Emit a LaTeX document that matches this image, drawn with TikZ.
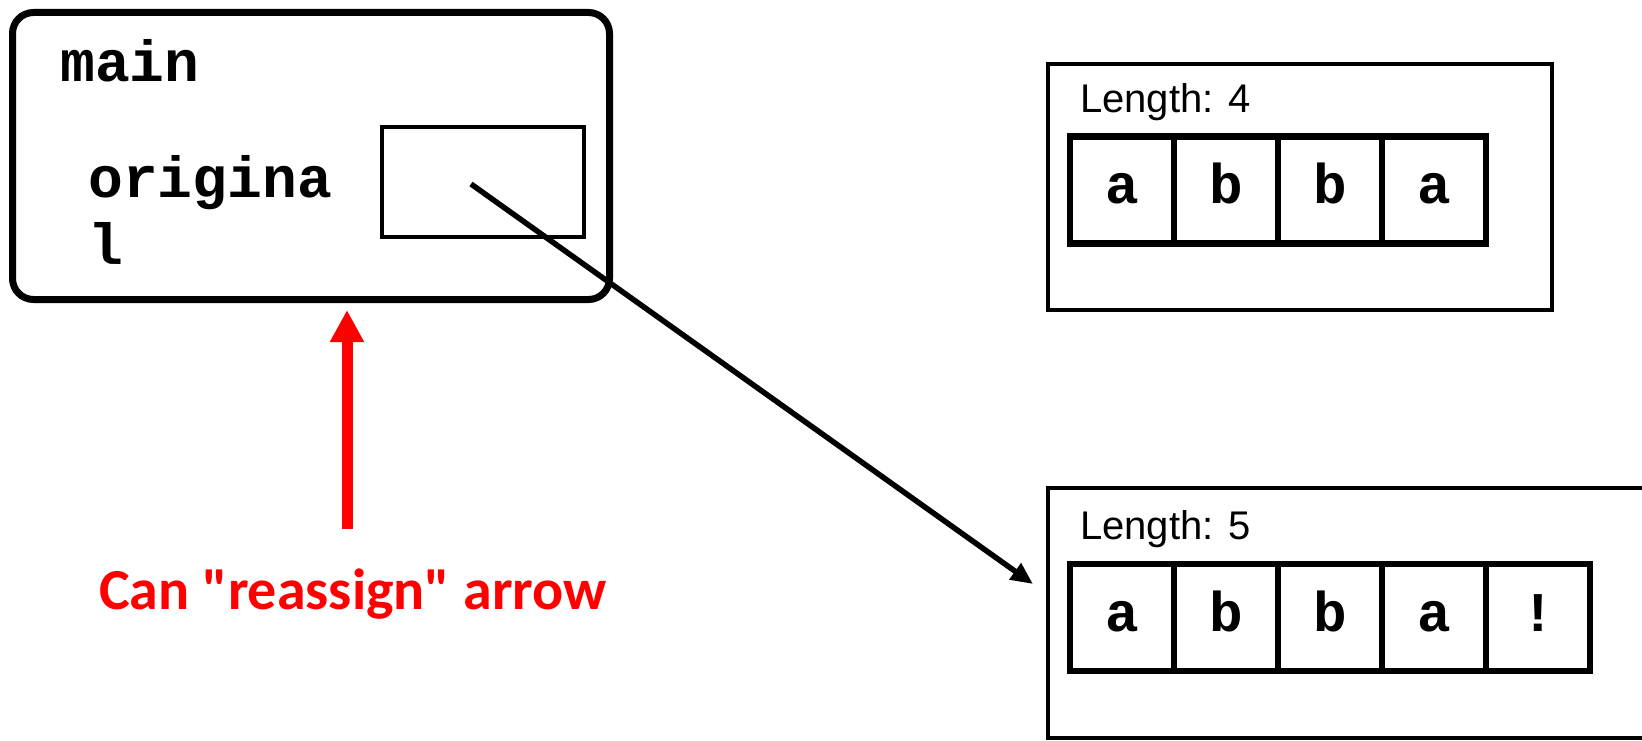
\documentclass[tikz,border=0pt]{standalone}
\usepackage{fontspec}
\setmainfont{Liberation Sans}
\newfontfamily\courb{Liberation Mono}
\newfontfamily\calib{Carlito}
\usetikzlibrary{arrows.meta}
\tikzset{
  frame/.style={draw, line width=4.5pt, inner sep=0pt, outer sep=0pt},
  cell/.style={draw, line width=6.5pt, inner sep=0pt, outer sep=0pt, minimum width=104pt, minimum height=107pt,
    font=\courb\bfseries\fontsize{56}{60}\selectfont, text height=27pt, text depth=0pt},
  code/.style={font=\courb\bfseries\fontsize{58}{67}\selectfont, inner sep=0pt, anchor=base west},
  lenlabel/.style={font=\fontsize{40}{44}\selectfont, inner sep=0pt, anchor=base west},
}
\begin{document}
\begin{tikzpicture}[x=1pt,y=-1pt]
\useasboundingbox (0,0) rectangle (1642,741);
% main frame
\node[draw, line width=7pt, rounded corners=21pt, inner sep=0pt, minimum width=597pt, minimum height=287pt] (mainbox) at (311,156) {};
\node[code] (maintxt) at (60,82) {main};
\node[code] (orig1) at (88,197) {origina};
\node[code] (orig2) at (88,264) {l};
\node[frame, minimum width=202pt, minimum height=110pt] (ptr) at (483,182) {};
% array 1
\node[frame, minimum width=504pt, minimum height=246pt] (arr1) at (1300,187) {};
\node[lenlabel] (len1) at (1080,113) {Length: 4};
\foreach \c [count=\i] in {a,b,b,a}{
  \node[cell] (a1c\i) at ({1070+52+(\i-1)*104},190) {\c};
}
% array 2
\node[frame, minimum width=620pt, minimum height=250pt] (arr2) at (1358,613) {};
\node[lenlabel] (len2) at (1080,539) {Length: 5};
\foreach \c [count=\i] in {a,b,b,a,!}{
  \node[cell] (a2c\i) at ({1070+52+(\i-1)*104},617.5) {\c};
}
% pointer arrow
\coordinate (pstart) at (471,184);
\coordinate (ptip) at (1033,584);
\draw[line width=5.5pt, -{Triangle[length=22pt,width=19pt]}] (pstart) -- (ptip);
% red arrow
\coordinate (rbot) at (347,529);
\coordinate (rtop) at (347,310);
\draw[red, line width=11pt, -{Triangle[length=32pt,width=32pt]}] (rbot) -- (rtop);
\node[red, font=\calib\bfseries\fontsize{58}{60}\selectfont, inner sep=0pt, anchor=base] (note) at (353,609) {Can "reassign" arrow};
\end{tikzpicture}
\end{document}
